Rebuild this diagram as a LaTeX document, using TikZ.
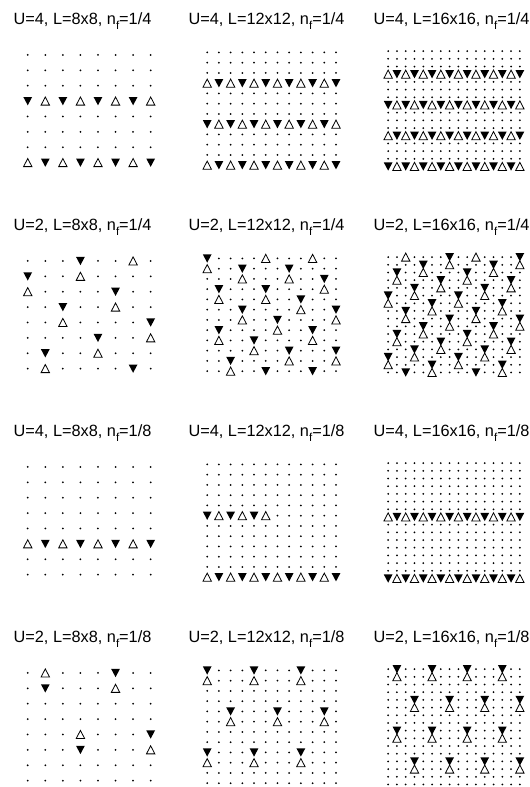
\documentclass[tikz,border=0pt]{standalone}
\usepackage{fontspec}
\setmainfont{Liberation Sans}
\newcommand\nsubf{n\raisebox{-5.5pt}{\fontsize{11.5}{12}\selectfont f}}
\newcommand\pnset[5]{\def\pnX{#1}\def\pnY{#2}\def\pnL{#3}\def\pnSX{#4}\def\pnSY{#5}}
\newcommand\pndots{\foreach \i in {1,...,\pnL}{\foreach \j in {1,...,\pnL}{\fill ({\pnX+(\i-(\pnL+1)/2)*\pnSX},{\pnY+(\j-(\pnL+1)/2)*\pnSY}) circle (1.0);}}}
\newcommand\pnup[1]{\foreach \i/\j in {#1}{\path ({\pnX+(\i-(\pnL+1)/2)*\pnSX},{\pnY+(\j-(\pnL+1)/2)*\pnSY}) pic{upm};}}
\newcommand\pndn[1]{\foreach \i/\j in {#1}{\path ({\pnX+(\i-(\pnL+1)/2)*\pnSX},{\pnY+(\j-(\pnL+1)/2)*\pnSY}) pic{dnm};}}
\newcommand\pnpair[1]{\foreach \i/\j in {#1}{\pgfmathtruncatemacro\jj{mod(\j,\pnL)+1}%
  \path ({\pnX+(\i-(\pnL+1)/2)*\pnSX},{\pnY+(\jj-(\pnL+1)/2)*\pnSY}) pic{upm};%
  \path ({\pnX+(\i-(\pnL+1)/2)*\pnSX},{\pnY+(\j-(\pnL+1)/2)*\pnSY}) pic{dnm};}}
% #1 row, #2 parity (0: down at odd columns, 1: up at odd columns), #3 last column
\newcommand\pnstripe[3]{\foreach \i in {1,...,#3}{\pgfmathtruncatemacro\pp{mod(\i+#2,2)}%
  \ifnum\pp=1 \path ({\pnX+(\i-(\pnL+1)/2)*\pnSX},{\pnY+(#1-(\pnL+1)/2)*\pnSY}) pic{dnm};%
  \else \path ({\pnX+(\i-(\pnL+1)/2)*\pnSX},{\pnY+(#1-(\pnL+1)/2)*\pnSY}) pic{upm};\fi}}
\begin{document}
\begin{tikzpicture}[x=1pt,y=-1pt]
\tikzset{
  ttl/.style={font=\fontsize{16.3}{18}\selectfont, anchor=base, inner sep=0pt},
  upm/.pic={\filldraw[fill=white,draw=black,line width=0.8pt,line join=miter] (0,-4.1) -- (4.2,4.0) -- (-4.2,4.0) -- cycle;},
  dnm/.pic={\fill[black] (-4.4,-4.1) -- (4.4,-4.1) -- (0,4.2) -- cycle;},
}
\fill[white] (0,0) rectangle (530,787);
\useasboundingbox (0,0) rectangle (530,787);
% titles
\node[ttl] (t11) at (82.5,24) {U=4, L=8x8, \nsubf=1/4};
\node[ttl] (t12) at (266.5,24) {U=4, L=12x12, \nsubf=1/4};
\node[ttl] (t13) at (451.5,24) {U=4, L=16x16, \nsubf=1/4};
\node[ttl] (t21) at (82.5,230) {U=2, L=8x8, \nsubf=1/4};
\node[ttl] (t22) at (266.5,230) {U=2, L=12x12, \nsubf=1/4};
\node[ttl] (t23) at (451.5,230) {U=2, L=16x16, \nsubf=1/4};
\node[ttl] (t31) at (82.5,436) {U=4, L=8x8, \nsubf=1/8};
\node[ttl] (t32) at (266.5,436) {U=4, L=12x12, \nsubf=1/8};
\node[ttl] (t33) at (451.5,436) {U=4, L=16x16, \nsubf=1/8};
\node[ttl] (t41) at (82.5,642) {U=2, L=8x8, \nsubf=1/8};
\node[ttl] (t42) at (266.5,642) {U=2, L=12x12, \nsubf=1/8};
\node[ttl] (t43) at (451.5,642) {U=2, L=16x16, \nsubf=1/8};
% row 1
\pnset{89.2}{108.8}{8}{17.56}{15.38}\pndots
\pnstripe{4}{0}{8}\pnstripe{8}{1}{8}
\pnset{271.6}{108.8}{12}{11.71}{10.25}\pndots
\pnstripe{4}{1}{12}\pnstripe{8}{0}{12}\pnstripe{12}{1}{12}
\pnset{454.0}{108.8}{16}{8.78}{7.69}\pndots
\pnstripe{4}{1}{16}\pnstripe{8}{0}{16}\pnstripe{12}{1}{16}\pnstripe{16}{0}{16}
% row 2
\pnset{89.2}{314.8}{8}{17.56}{15.38}\pndots
\pnpair{4/1,1/2,6/3,3/4,8/5,5/6,2/7,7/8}
\pnset{271.6}{314.8}{12}{11.71}{10.25}\pndots
\pnpair{1/1,4/2,8/2,11/3,2/4,6/4,9/5,4/6,12/6,7/7,2/8,10/8,5/9,8/10,12/10,3/11,6/12,10/12}
\pnset{454.0}{314.8}{16}{8.78}{7.69}\pndots
\pnpair{8/1,16/1,5/2,13/2,2/3,10/3,7/4,15/4,4/5,12/5,1/6,9/6,6/7,14/7,3/8,11/8,8/9,16/9,5/10,13/10,2/11,10/11,7/12,15/12,4/13,12/13,1/14,9/14,6/15,14/15,3/16,11/16}
% row 3
\pnset{89.2}{520.8}{8}{17.56}{15.38}\pndots
\pnstripe{6}{1}{8}
\pnset{271.6}{520.8}{12}{11.71}{10.25}\pndots
\pnstripe{6}{0}{6}\pnstripe{12}{1}{12}
\pnset{454.0}{520.8}{16}{8.78}{7.69}\pndots
\pnstripe{8}{1}{16}\pnstripe{16}{0}{16}
% row 4
\pnset{89.2}{726.8}{8}{17.56}{15.38}\pndots
\pnpair{6/1,8/5}\pnup{2/1,4/5}\pndn{2/2,4/6}
\pnset{271.6}{726.8}{12}{11.71}{10.25}\pndots
\pnpair{1/1,5/1,9/1,3/5,7/5,11/5,1/9,5/9,9/9}
\pnset{454.0}{726.8}{16}{8.78}{7.69}\pndots
\pnpair{2/1,6/1,10/1,14/1,4/5,8/5,12/5,16/5,2/9,6/9,10/9,14/9,4/13,8/13,12/13,16/13}
\end{tikzpicture}
\end{document}
